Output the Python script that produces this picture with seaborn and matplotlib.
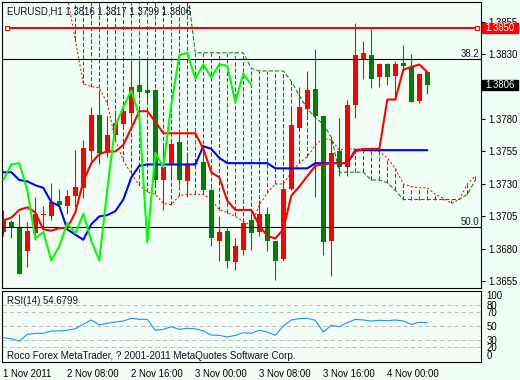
import matplotlib
matplotlib.use("Agg")
import matplotlib.pyplot as plt
import matplotlib.transforms as mtrans
from matplotlib.patches import Rectangle
import numpy as np
import pandas as pd
import seaborn as sns

# ---------------- data ----------------
symbol = "EURUSD,H1"
opens = [1.3693, 1.3701, 1.3697, 1.3678, 1.3692, 1.3706, 1.3705, 1.3717, 1.3713, 1.3721,
         1.3727, 1.3755, 1.3783, 1.3754, 1.3768, 1.3776, 1.3785, 1.3806, 1.3802, 1.3802,
         1.3733, 1.3745, 1.3762, 1.3732, 1.3745, 1.3747, 1.3725, 1.3686, 1.3694, 1.3670,
         1.3679, 1.3702, 1.3693, 1.3707, 1.3686, 1.3672, 1.3726, 1.3773, 1.3788, 1.3803,
         1.3782, 1.3686, 1.3755, 1.3743, 1.3791, 1.3826, 1.3829, 1.3812, 1.3822, 1.3813,
         1.3823, 1.3820, 1.3794, 1.3816]
highs = [1.3710, 1.3702, 1.3707, 1.3701, 1.3720, 1.3713, 1.3731, 1.3726, 1.3725, 1.3756,
         1.3764, 1.3789, 1.3802, 1.3782, 1.3787, 1.3792, 1.3825, 1.3826, 1.3826, 1.3803,
         1.3759, 1.3764, 1.3769, 1.3754, 1.3748, 1.3760, 1.3727, 1.3705, 1.3696, 1.3688,
         1.3704, 1.3708, 1.3718, 1.3712, 1.3686, 1.3733, 1.3789, 1.3805, 1.3817, 1.3834,
         1.3782, 1.3764, 1.3781, 1.3795, 1.3854, 1.3840, 1.3849, 1.3823, 1.3823, 1.3825,
         1.3837, 1.3830, 1.3815, 1.3817]
lows = [1.3690, 1.3688, 1.3661, 1.3666, 1.3687, 1.3695, 1.3702, 1.3714, 1.3707, 1.3712,
        1.3719, 1.3748, 1.3745, 1.3751, 1.3764, 1.3773, 1.3778, 1.3796, 1.3792, 1.3728,
        1.3710, 1.3733, 1.3729, 1.3720, 1.3743, 1.3723, 1.3682, 1.3671, 1.3665, 1.3664,
        1.3675, 1.3679, 1.3690, 1.3678, 1.3656, 1.3671, 1.3725, 1.3772, 1.3783, 1.3720,
        1.3675, 1.3659, 1.3736, 1.3736, 1.3781, 1.3811, 1.3804, 1.3805, 1.3806, 1.3795,
        1.3818, 1.3793, 1.3792, 1.3799]
closes = [1.3702, 1.3696, 1.3661, 1.3694, 1.3707, 1.3707, 1.3716, 1.3714, 1.3721, 1.3728,
          1.3758, 1.3783, 1.3754, 1.3768, 1.3777, 1.3786, 1.3805, 1.3801, 1.3800, 1.3733,
          1.3743, 1.3761, 1.3733, 1.3745, 1.3746, 1.3725, 1.3688, 1.3693, 1.3671, 1.3682,
          1.3700, 1.3692, 1.3707, 1.3686, 1.3671, 1.3726, 1.3775, 1.3789, 1.3802, 1.3782,
          1.3685, 1.3754, 1.3743, 1.3791, 1.3829, 1.3831, 1.3811, 1.3822, 1.3812, 1.3822,
          1.3821, 1.3793, 1.3815, 1.3806]
tenkan = [1.3702, 1.3704, 1.3710, 1.3712, 1.3708, 1.3695, 1.3694, 1.3696, 1.3696, 1.3708,
          1.3732, 1.3746, 1.3753, 1.3755, 1.3755, 1.3760, 1.3773, 1.3786, 1.3786, 1.3778,
          1.3769, 1.3769, 1.3769, 1.3769, 1.3769, 1.3757, 1.3739, 1.3735, 1.3717, 1.3710,
          1.3710, 1.3710, 1.3698, 1.3690, 1.3688, 1.3695, 1.3721, 1.3728, 1.3736, 1.3744,
          1.3745, 1.3746, 1.3746, 1.3746, 1.3755, 1.3757, 1.3757, 1.3757, 1.3795, 1.3795,
          1.3818, 1.3820, 1.3822, 1.3816]
kijun = [1.3739, 1.3739, 1.3733, 1.3732, 1.3729, 1.3727, 1.3716, 1.3713, 1.3695, 1.3691,
         1.3687, 1.3699, 1.3705, 1.3706, 1.3709, 1.3718, 1.3735, 1.3744, 1.3745, 1.3745,
         1.3745, 1.3745, 1.3745, 1.3745, 1.3745, 1.3759, 1.3757, 1.3750, 1.3746, 1.3746,
         1.3746, 1.3746, 1.3746, 1.3746, 1.3742, 1.3742, 1.3742, 1.3742, 1.3742, 1.3746,
         1.3746, 1.3746, 1.3746, 1.3746, 1.3756, 1.3756, 1.3756, 1.3756, 1.3756, 1.3756,
         1.3756, 1.3756, 1.3756, 1.3756]
chikou_shift = 22
senkou_a = [1.3880, 1.3880, 1.3880, 1.3880, 1.3880, 1.3880, 1.3880, 1.3880, 1.3874, 1.3841,
            1.3807, 1.3805, 1.3804, 1.3792, 1.3764, 1.3748, 1.3738, 1.3729, 1.3724, 1.3722,
            1.3715, 1.3714, 1.3721, 1.3722, 1.3722, 1.3722, 1.3718, 1.3710, 1.3708, 1.3705,
            1.3701, 1.3698, 1.3714, 1.3723, 1.3730, 1.3730, 1.3739, 1.3746, 1.3751, 1.3760,
            1.3765, 1.3764, 1.3756, 1.3757, 1.3757, 1.3757, 1.3756, 1.3755, 1.3750, 1.3742,
            1.3730, 1.3728, 1.3727, 1.3727, 1.3722, 1.3719, 1.3715, 1.3718, 1.3730, 1.3736]
senkou_b = [1.3880, 1.3880, 1.3880, 1.3880, 1.3880, 1.3880, 1.3880, 1.3880, 1.3880, 1.3880,
            1.3880, 1.3880, 1.3880, 1.3880, 1.3880, 1.3880, 1.3880, 1.3880, 1.3880, 1.3880,
            1.3880, 1.3880, 1.3880, 1.3880, 1.3831, 1.3831, 1.3831, 1.3831, 1.3831, 1.3831,
            1.3831, 1.3819, 1.3817, 1.3817, 1.3817, 1.3817, 1.3809, 1.3798, 1.3788, 1.3781,
            1.3776, 1.3766, 1.3739, 1.3739, 1.3739, 1.3739, 1.3733, 1.3733, 1.3731, 1.3725,
            1.3718, 1.3718, 1.3718, 1.3718, 1.3718, 1.3718, 1.3718, 1.3718, 1.3722, 1.3733]
rsi = [33.3, 31.9, 28.5, 38.1, 39.5, 39.5, 42.9, 42.9, 44.0, 46.0,
       52.4, 58.6, 51.4, 53.8, 55.7, 57.1, 61.0, 59.5, 59.5, 43.8,
       45.2, 49.0, 45.2, 46.7, 46.0, 42.9, 37.1, 36.7, 34.3, 36.7,
       40.5, 39.5, 44.0, 41.4, 36.7, 50.0, 58.6, 60.5, 61.0, 58.1,
       41.4, 51.0, 49.0, 54.8, 59.5, 58.6, 57.1, 58.1, 57.6, 58.6,
       57.1, 52.4, 55.2, 54.6799]
time_labels = ["1 Nov 2011", "2 Nov 08:00", "2 Nov 16:00", "3 Nov 00:00",
               "3 Nov 08:00", "3 Nov 16:00", "4 Nov 00:00"]
time_label_bars = [0, 8, 16, 24, 32, 40, 48]
price_ticks = [1.3855, 1.3830, 1.3780, 1.3755, 1.3730, 1.3705, 1.3680, 1.3655]
hline_price = 1.3850
fib_prices = [1.3826, 1.3697]
fib_labels = ["38.2", "50.0"]
rsi_levels = [80, 70, 50, 30, 20]
rsi_ticks = [100, 80, 70, 50, 30, 20, 0]
copyright_text = "Roco Forex MetaTrader, ? 2001-2011 MetaQuotes Software Corp."

# ---------------- style ----------------
BG = "#F2FFF7"
RED = "#FF0000"
DGREEN = "#008000"
LIME = "#00FF00"
BLUE = "#0000FF"
RSI_C = "#1E90FF"
FS = 6.9

sns.set_style("white")
plt.rcParams['font.family'] = ['Liberation Sans', 'DejaVu Sans']

W, H = 520, 380
fig = plt.figure(figsize=(W / 100, H / 100), dpi=100, facecolor=BG)


def fx(px):
    return px / W


def fy(py):
    return 1 - py / H


ax = fig.add_axes([fx(2), fy(288), fx(481) - fx(2), fy(2) - fy(288)])
ax2 = fig.add_axes([fx(2), fy(362), fx(481) - fx(2), fy(290.7) - fy(362)])
for a in (ax, ax2):
    a.set_facecolor(BG)
    for s in a.spines.values():
        s.set_color("black")
        s.set_linewidth(0.8)

ymin, ymax = 1.364987, 1.387009
xmin, xmax = -0.1625, 59.71

n = len(closes)
bars = pd.DataFrame({"bar": np.arange(n), "open": opens, "high": highs,
                     "low": lows, "close": closes, "tenkan": tenkan, "kijun": kijun})
cloud = pd.DataFrame({"bar": np.arange(len(senkou_a)), "a": senkou_a, "b": senkou_b})
chik = pd.DataFrame({"bar": np.arange(n - chikou_shift), "chikou": closes[chikou_shift:]})

# ---- cloud hatch ----
for k, a_, b_ in zip(cloud["bar"], cloud["a"], cloud["b"]):
    col = DGREEN if b_ > a_ else RED
    ax.vlines(k, min(a_, b_), max(a_, b_), colors=col, linewidth=0.75,
              linestyles=(0, (4, 2)), zorder=1)
sns.lineplot(data=cloud, x="bar", y="a", ax=ax, color=RED, linewidth=0.75, zorder=1.2)
ax.lines[-1].set_dashes((2, 2))
sns.lineplot(data=cloud, x="bar", y="b", ax=ax, color=DGREEN, linewidth=0.75, zorder=1.2)
ax.lines[-1].set_dashes((4, 2))

# ---- candles ----
cols = [RED if c >= o else DGREEN for o, c in zip(bars["open"], bars["close"])]
ax.vlines(bars["bar"], bars["low"], bars["high"], colors=cols, linewidth=0.8, zorder=2)
body_h = np.maximum(np.abs(bars["close"] - bars["open"]), 0.00008)
ax.bar(bars["bar"], body_h, bottom=np.minimum(bars["open"], bars["close"]),
       width=0.62, color=cols, linewidth=0, zorder=2.1)

# ---- Fibonacci levels ----
for p, lab in zip(fib_prices, fib_labels):
    ax.axhline(p, color="black", linewidth=0.8, zorder=2.5)
    ax.text(0.997, p, lab, transform=ax.get_yaxis_transform(), ha="right",
            va="bottom", fontsize=FS, color="#101030", zorder=5)

# ---- Ichimoku lines ----
sns.lineplot(data=bars, x="bar", y="kijun", ax=ax, color=BLUE, linewidth=1.5, zorder=3)
sns.lineplot(data=bars, x="bar", y="tenkan", ax=ax, color=RED, linewidth=1.5, zorder=3.1)
sns.lineplot(data=chik, x="bar", y="chikou", ax=ax, color=LIME, linewidth=1.5, zorder=3.2)

# ---- horizontal line object ----
ax.plot([0.0095, 0.991], [hline_price, hline_price], transform=ax.get_yaxis_transform(),
        color=RED, linewidth=1.5, marker="s", markersize=3.4, markerfacecolor=BG,
        markeredgecolor=RED, markeredgewidth=0.8, zorder=4, clip_on=False)

ax.set_xlim(xmin, xmax)
ax.set_ylim(ymin, ymax)
ax.set_xlabel("")
ax.set_ylabel("")
ax.set_xticks([])
ax.yaxis.tick_right()
ax.set_yticks(price_ticks)
ax.set_yticklabels([f"{p:.4f}" for p in price_ticks])
ax.tick_params(axis="y", which="major", length=3, width=0.8, pad=2,
               labelsize=FS, colors="black")

# ---- price boxes on the right ----
ppx = (ymax - ymin) / 286.0
btr = mtrans.blended_transform_factory(fig.transFigure, ax.transData)
for price, fc in ((hline_price, RED), (closes[-1], "black")):
    ax.add_patch(Rectangle((fx(482), price - 5 * ppx), fx(518) - fx(482), 10 * ppx,
                           transform=btr, facecolor=fc, edgecolor=fc, clip_on=False,
                           zorder=6))
    ax.text(fx(500), price, f"{price:.4f}", transform=btr, ha="center", va="center",
            color="white", fontsize=FS, zorder=7, clip_on=False)

# ---- header ----
fig.text(fx(7), fy(11),
         f"{symbol} {opens[-1]:.4f} {highs[-1]:.4f} {lows[-1]:.4f} {closes[-1]:.4f}",
         ha="left", va="center", fontsize=FS, color="#101020")

# ---- RSI panel ----
for lvl in rsi_levels:
    ax2.axhline(lvl, color="#BEBEBE", linewidth=0.75, dashes=(4, 3), zorder=1)
rsi_df = pd.DataFrame({"bar": np.arange(len(rsi)), "rsi": rsi})
sns.lineplot(data=rsi_df, x="bar", y="rsi", ax=ax2, color=RSI_C, linewidth=0.8, zorder=3)
ax2.set_xlim(xmin, xmax)
ax2.set_ylim(-1.4, 100.4)
ax2.set_xlabel("")
ax2.set_ylabel("")
ax2.yaxis.tick_right()
ax2.set_yticks(rsi_ticks)
ylabs = ax2.set_yticklabels([str(t) for t in rsi_ticks])
ylabs[0].set_va("top")
ylabs[-1].set_va("bottom")
ax2.tick_params(axis="y", length=0, pad=4, labelsize=FS, colors="black")
ax2.set_xticks(time_label_bars)
xl = ax2.set_xticklabels(time_labels)
for t in xl:
    t.set_ha("left")
ax2.tick_params(axis="x", length=3, width=0.8, pad=2, labelsize=FS, colors="black")
ax2.text(0.0105, 0.86, f"RSI(14) {rsi[-1]:.4f}", transform=ax2.transAxes,
         ha="left", va="center", fontsize=FS, color="#101020")
ax2.text(0.01, 0.09, copyright_text, transform=ax2.transAxes,
         ha="left", va="center", fontsize=7.1, color="#101020")

fig.savefig("out.png", dpi=100, facecolor=BG)
